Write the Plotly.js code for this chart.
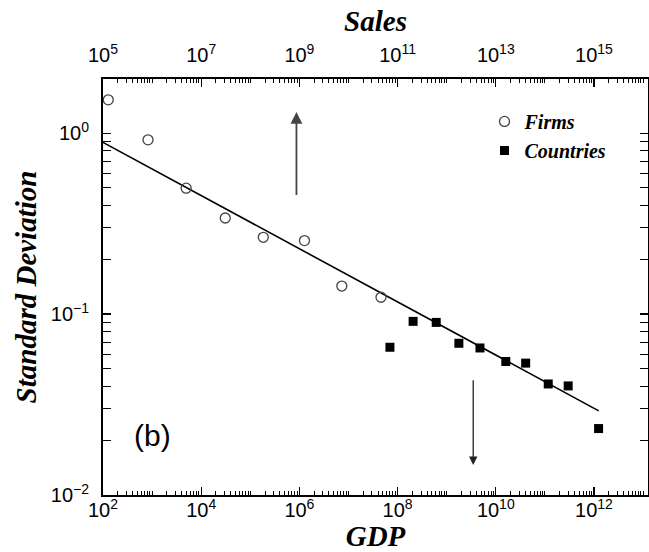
<!DOCTYPE html>
<html>
<head>
<meta charset="utf-8">
<script src="https://cdn.plot.ly/plotly-3.0.1.min.js"></script>
<style>html,body{margin:0;padding:0;background:#fff;}#chart{width:649px;height:552px;}</style>
</head>
<body>
<div id="chart"></div>
<script>
// Firms: plotted against Sales (top axis)
const firmSales = [1.28e5, 8.26e5, 4.94e6, 3.09e7, 1.84e8, 1.27e9, 7.31e9, 4.59e10];
const firmSD    = [1.53, 0.92, 0.497, 0.34, 0.266, 0.255, 0.143, 0.124];
// Countries: plotted against GDP (bottom axis)
const countryGDP = [6.98e7, 2.07e8, 6.12e8, 1.77e9, 4.76e9, 1.60e10, 4.06e10, 1.17e11, 2.98e11, 1.24e12];
const countrySD  = [0.0656, 0.0912, 0.090, 0.069, 0.065, 0.0547, 0.0536, 0.0411, 0.0401, 0.0233];
// Fitted power-law line (GDP axis)
const fitGDP = [1.0e2, 1.25e12];
const fitSD  = [0.89, 0.0292];
// Axis ranges (log10)
const gdpRange = [2, 13.1];
const salesRange = [5, 16.1];
const sdRange = [-2, 0.3];
// Tick values and labels
const gdpTickVals = [1e2, 1e4, 1e6, 1e8, 1e10, 1e12];
const gdpTickText = ['10<sup>2</sup>', '10<sup>4</sup>', '10<sup>6</sup>', '10<sup>8</sup>', '10<sup>10</sup>', '10<sup>12</sup>'];
const salesTickVals = [1e5, 1e7, 1e9, 1e11, 1e13, 1e15];
const salesTickText = ['10<sup>5</sup>', '10<sup>7</sup>', '10<sup>9</sup>', '10<sup>11</sup>', '10<sup>13</sup>', '10<sup>15</sup>'];
const sdTickVals = [0.01, 0.1, 1];
const sdTickText = ['10<sup>\u22122</sup>', '10<sup>\u22121</sup>', '10<sup>0</sup>'];
// Arrows (log10 coordinates): [x, yTail, yTip]
const upArrow = [5.94, -0.35, 0.117];
const downArrow = [9.54, -1.357, -1.834];

// minor tick positions (k x 10^d) across a log range
function minorVals(r) {
  const out = [];
  for (let d = Math.floor(r[0]); d <= Math.ceil(r[1]); d++) {
    for (let k = 1; k <= 9; k++) out.push(k * Math.pow(10, d));
  }
  return out;
}

const serifBI = {family: 'Liberation Serif, Times New Roman, serif', size: 29, color: '#000', weight: 'bold', style: 'italic'};
const tickFont = {family: 'Liberation Sans, Arial, sans-serif', size: 20, color: '#000'};

const traces = [
  {x: firmSales, y: firmSD, xaxis: 'x2', yaxis: 'y', type: 'scatter', mode: 'markers', name: 'Firms',
   marker: {symbol: 'circle-open', size: 10, color: '#444', line: {width: 1.3, color: '#444'}}},
  {x: countryGDP, y: countrySD, xaxis: 'x', yaxis: 'y', type: 'scatter', mode: 'markers', name: 'Countries',
   marker: {symbol: 'square', size: 9, color: '#000'}},
  {x: fitGDP, y: fitSD, xaxis: 'x', yaxis: 'y', type: 'scatter', mode: 'lines', showlegend: false,
   line: {color: '#000', width: 1.6}}
];

function minorOf(r) {
  return {tickmode: 'array', tickvals: minorVals(r), ticks: 'inside', ticklen: 4, tickwidth: 1,
          tickcolor: '#000', showgrid: false};
}

const layout = {
  width: 649, height: 552,
  margin: {l: 103, r: 1, t: 79, b: 57},
  paper_bgcolor: '#fff', plot_bgcolor: '#fff',
  showlegend: true,
  legend: {x: 0.70, y: 0.945, xanchor: 'left', yanchor: 'top', bgcolor: 'rgba(0,0,0,0)',
           font: {family: 'Liberation Serif, Times New Roman, serif', size: 20, color: '#000', weight: 'bold', style: 'italic'},
           tracegroupgap: 0, itemwidth: 30},
  xaxis: {type: 'log', range: gdpRange, tickmode: 'array', tickvals: gdpTickVals, ticktext: gdpTickText,
          ticks: 'inside', ticklen: 8, tickwidth: 1.3, tickcolor: '#000',
          showline: true, linewidth: 2, linecolor: '#000', mirror: false, showgrid: false, zeroline: false,
          tickfont: tickFont, ticklabelstandoff: -4, minor: minorOf(gdpRange),
          title: {text: 'GDP', font: serifBI, standoff: 0}},
  xaxis2: {type: 'log', range: salesRange, overlaying: 'x', side: 'top', anchor: 'y',
           tickmode: 'array', tickvals: salesTickVals, ticktext: salesTickText,
           ticks: 'inside', ticklen: 8, tickwidth: 1.3, tickcolor: '#000',
           showline: true, linewidth: 2, linecolor: '#000', showgrid: false, zeroline: false,
           tickfont: tickFont, ticklabelstandoff: 7, minor: minorOf(salesRange),
           title: {text: 'Sales', font: serifBI, standoff: 0}},
  yaxis: {type: 'log', range: sdRange, tickmode: 'array', tickvals: sdTickVals, ticktext: sdTickText,
          ticks: 'inside', ticklen: 8, tickwidth: 1.3, tickcolor: '#000',
          showline: true, linewidth: 2, linecolor: '#000', mirror: 'allticks', showgrid: false, zeroline: false,
          tickfont: tickFont, ticklabelstandoff: 8, minor: minorOf(sdRange),
          title: {text: 'Standard Deviation', font: serifBI, standoff: 6}},
  annotations: [
    {xref: 'x', yref: 'y', axref: 'x', ayref: 'y', x: upArrow[0], y: upArrow[2], ax: upArrow[0], ay: upArrow[1],
     text: '', showarrow: true, arrowhead: 2, arrowsize: 1.3, arrowwidth: 1.8, arrowcolor: '#444'},
    {xref: 'x', yref: 'y', axref: 'x', ayref: 'y', x: downArrow[0], y: downArrow[2], ax: downArrow[0], ay: downArrow[1],
     text: '', showarrow: true, arrowhead: 2, arrowsize: 1.3, arrowwidth: 1.3, arrowcolor: '#222'},
    {xref: 'x', yref: 'y', x: 3.0, y: -1.67, text: '(b)', showarrow: false,
     font: {family: 'Liberation Sans, Arial, sans-serif', size: 30, color: '#000'}}
  ]
};

Plotly.newPlot('chart', traces, layout, {displayModeBar: false, staticPlot: true});
</script>
</body>
</html>
